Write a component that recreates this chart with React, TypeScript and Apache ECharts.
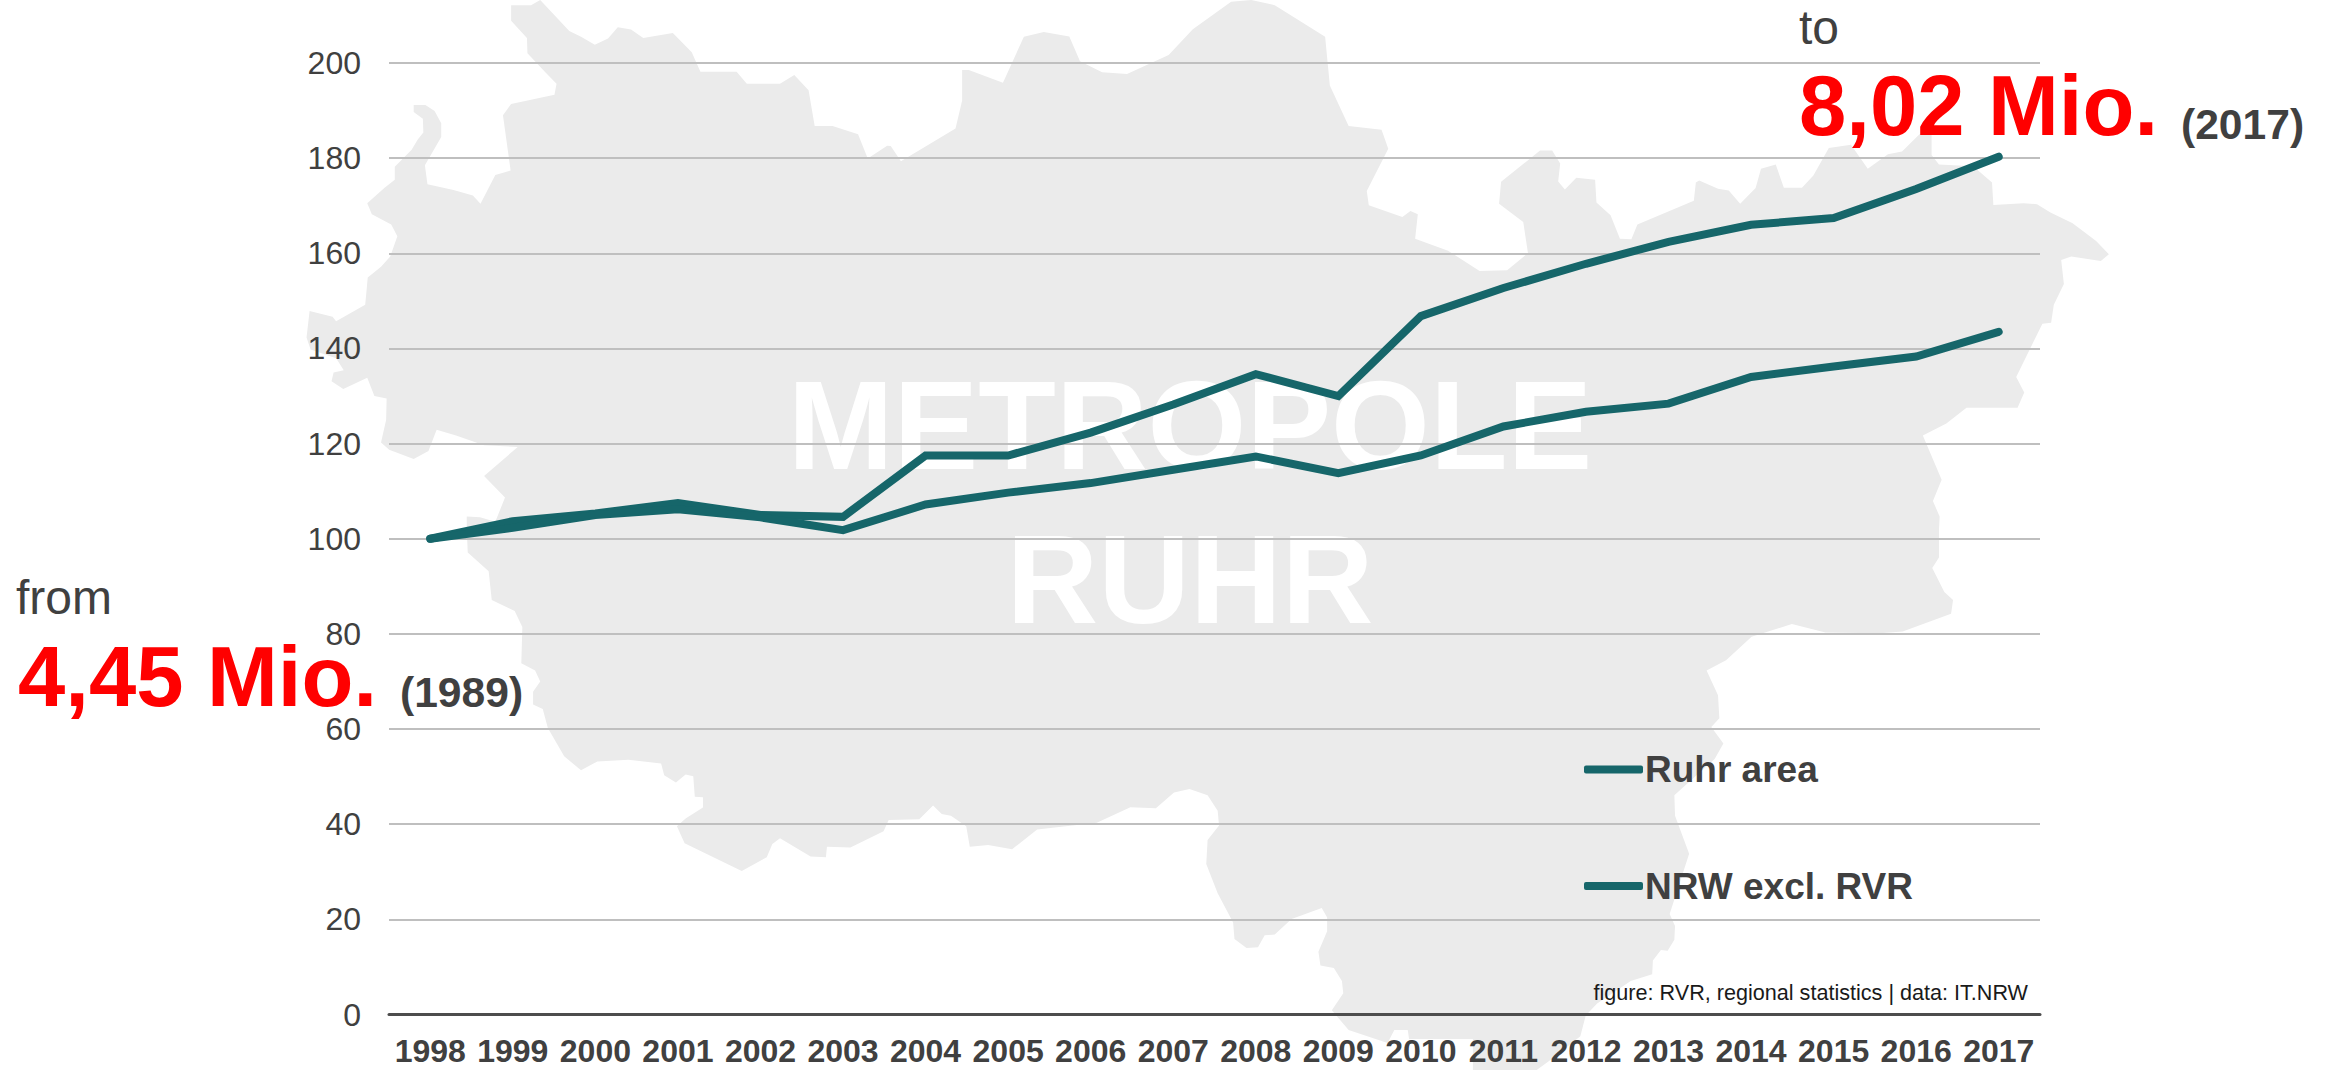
import React, { useEffect, useRef } from "react";
import * as echarts from "echarts";

const years = ["1998","1999","2000","2001","2002","2003","2004","2005","2006","2007","2008","2009","2010","2011","2012","2013","2014","2015","2016","2017"];
const ruhrArea = [100,103.7,105.3,107.5,105,104.6,117.5,117.5,122.3,128.2,134.6,130,146.8,152.7,157.8,162.4,166,167.4,173.5,180.3];
const nrwExcl = [100,102.3,105,106.2,104.5,101.8,107.2,109.7,111.7,114.5,117.3,113.8,117.5,123.6,126.7,128.4,134,136.2,138.3,143.5];
const yTicks = { min: 0, max: 200, interval: 20 };

const FONT = "Liberation Sans, Arial, sans-serif";
const TEAL = "#16666a";
const DARK = "#404040";

// Silhouette (background decoration, px on the page).
const sx1 = 1 / 1.96, sx2 = 1 / 1.489, sy = 1 / 2.904;
const mapA = [[453,15],[492,15],[510,0],[567,90],[590,107],[617,130],[643,112],[662,79],[688,86],[712,110],[770,96],[807,152],[824,208],[895,208],[915,243],[980,243],[1008,218],[1036,262],[1048,366],[1083,366],[1133,390],[1152,460],[1190,423],[1197,424],[1217,468],[1324,373],[1337,292],[1337,203],[1350,203],[1417,240],[1458,107],[1497,93],[1547,106]].map(([x,y]) => [280+x*sx1, y*sy]);
const mapB = [[0,178],[33,210],[70,215],[132,160],[168,85],[225,5],[255,0],[290,15],[365,107],[372,248],[400,366],[449,377],[459,432],[427,555],[430,596],[480,630],[492,613],[503,622],[499,693],[548,728],[595,787],[636,785],[667,735],[660,645],[624,592],[627,528],[685,437],[703,437],[715,475],[712,527],[722,550],[739,516],[767,522],[769,588],[790,625],[804,693],[821,695],[830,652],[914,583],[917,530],[922,524],[950,548],[966,553],[983,592],[1006,546],[1014,490],[1036,478],[1048,545],[1075,545],[1092,510],[1115,430],[1148,420],[1173,490],[1203,448],[1224,440],[1250,390],[1268,390],[1268,450],[1279,478],[1330,483],[1358,530],[1360,595],[1405,590],[1425,593],[1445,617],[1478,648],[1513,700],[1532,738],[1520,758],[1476,745],[1461,755],[1465,825],[1450,885],[1446,937],[1433,940],[1394,1095],[1406,1140],[1396,1184],[1320,1184],[1290,1230],[1255,1265],[1283,1393],[1270,1455],[1280,1500]].map(([x,y]) => [1080+x*sx2, y*sy]);
const mapC = [[1279,0],[1279,80],[1269,110],[1287,180],[1300,203],[1297,243],[1225,295],[1190,300],[1110,298],[1060,273],[1000,310],[962,378],[933,408],[950,480],[952,547],[940,572],[958,620],[945,665],[885,770],[886,830],[907,940],[878,1115],[886,1150],[885,1190],[875,1222],[865,1220],[853,1250],[852,1290],[820,1310],[770,1375],[753,1410],[745,1470],[700,1540],[680,1568],[585,1568],[585,1478],[490,1478],[488,1452],[468,1452],[458,1490],[400,1452],[375,1395],[392,1345],[390,1310],[378,1272],[358,1265],[355,1225],[368,1165],[368,1125],[360,1098],[315,1130],[290,1175],[275,1177],[265,1212],[248,1214],[230,1188],[228,1140],[205,1055],[188,970],[190,900],[207,858],[205,815],[190,770],[163,752],[140,762],[113,808],[75,805],[25,850]].map(([x,y]) => [1080+x*sx2, 530+y*sy]);
const mapD = [[1484,870],[1435,927],[1388,915],[1352,920],[1345,860],[1315,830],[1297,825],[1280,800],[1253,840],[1193,842],[1183,875],[1118,922],[1072,920],[1070,950],[1040,948],[980,895],[965,912],[954,950],[905,990],[793,910],[778,860],[795,838],[829,806],[829,776],[813,775],[810,715],[795,710],[776,733],[753,712],[747,678],[683,667],[622,672],[590,698],[557,657],[525,575],[515,520],[496,507],[496,470],[510,440],[500,408],[473,387],[475,282],[460,235],[415,203],[409,120],[368,65],[366,0]].map(([x,y]) => [280+x*sx1, 530+y*sy]);
const mapE = [[366,1500],[392,1502],[422,1515],[441,1445],[400,1382],[466,1298],[400,1293],[345,1265],[307,1248],[291,1310],[262,1333],[214,1306],[198,1285],[208,1220],[209,1157],[185,1150],[171,1097],[124,1130],[101,1107],[105,1082],[125,1075],[110,1040],[60,1015],[52,980],[58,903],[103,920],[110,933],[167,885],[172,806],[198,775],[216,745],[230,686],[218,652],[180,622],[171,590],[205,545],[225,522],[225,484],[258,435],[270,405],[281,385],[280,345],[262,325],[262,305],[285,305],[303,322],[316,358],[316,398],[284,480],[289,535],[340,552],[378,568],[393,592],[422,508],[452,495],[437,335],[453,302],[538,275],[542,243],[520,210],[485,155],[484,110],[453,60]].map(([x,y]) => [280+x*sx1, y*sy]);
const mapOutline = [...mapA, ...mapB, ...mapC, ...mapD, ...mapE];

// y is the text baseline; the text is placed from its top edge.
function txt(text: string, x: number, y: number, size: number, fill: string, weight: string = "normal", align: string = "left", z = 5) {
  return {
    type: "text", x, y: y - 0.874 * size, z, silent: true,
    style: { text, fill, font: `${weight} ${size}px ${FONT}`, textAlign: align, textVerticalAlign: "top" },
  };
}

export default function App() {
  const ref = useRef<HTMLDivElement>(null);
  useEffect(() => {
    document.body.style.margin = "0";
    const chart = echarts.init(ref.current!, undefined, { renderer: "svg" });
    const line = (name: string, data: number[]) => ({
      name, type: "line", data, symbol: "none", showSymbol: false, z: 3,
      lineStyle: { color: TEAL, width: 8, cap: "round", join: "miter" },
      itemStyle: { color: TEAL },
    });
    chart.setOption({
      animation: false,
      backgroundColor: "#ffffff",
      grid: { left: 389, right: 293, top: 63, bottom: 55.5, containLabel: false },
      xAxis: {
        type: "category", data: years, boundaryGap: true,
        axisLine: { show: true, lineStyle: { color: "#4d4d4d", width: 3 } },
        axisTick: { show: false },
        axisLabel: { interval: 0, margin: 20, color: DARK, fontFamily: FONT, fontSize: 32, fontWeight: "bold" },
      },
      yAxis: {
        type: "value", ...yTicks,
        axisLine: { show: false }, axisTick: { show: false },
        axisLabel: { margin: 28, color: DARK, fontFamily: FONT, fontSize: 32 },
        splitLine: { show: true, lineStyle: { color: "#bfbfbf", width: 2 } },
      },
      legend: {
        orient: "vertical", left: 1584, top: 751, itemWidth: 59, itemHeight: 8, itemGap: 79.5,
        icon: "roundRect", padding: 0,
        textStyle: { color: DARK, fontFamily: FONT, fontSize: 37, fontWeight: "bold", padding: [0, 0, 0, -3] },
        data: ["Ruhr area", "NRW excl. RVR"],
      },
      graphic: [
        { type: "polygon", z: -2, silent: true, shape: { points: mapOutline }, style: { fill: "#ebebeb" } },
        txt("METROPOLE", 1190, 472, 127, "#ffffff", "bold", "center", -1),
        txt("RUHR", 1190, 626, 127, "#ffffff", "bold", "center", -1),
        txt("from", 16, 615, 48, DARK),
        txt("4,45 Mio.", 18, 708, 85, "#ff0000", "bold"),
        txt("(1989)", 400, 708, 42.6, DARK, "bold"),
        txt("to", 1799, 45, 48, DARK),
        txt("8,02 Mio.", 1799, 137, 85, "#ff0000", "bold"),
        txt("(2017)", 2181, 140, 42.6, DARK, "bold"),
        txt("figure: RVR, regional statistics | data: IT.NRW", 2028, 1000, 21.6, "#1a1a1a", "normal", "right"),
      ],
      series: [line("Ruhr area", ruhrArea), line("NRW excl. RVR", nrwExcl)],
    });
    return () => chart.dispose();
  }, []);
  return <div ref={ref} style={{ position: "absolute", left: 0, top: 0, width: 2333, height: 1070 }} />;
}
